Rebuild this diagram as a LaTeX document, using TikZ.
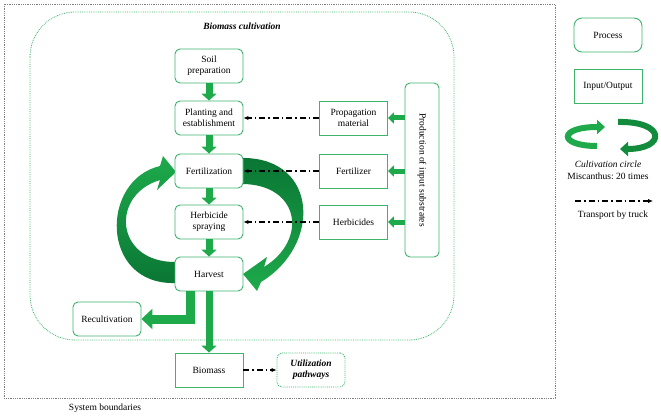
\documentclass[tikz,border=0pt]{standalone}
\usepackage{fontspec}
\setmainfont{Liberation Serif}
\usetikzlibrary{arrows.meta}

\definecolor{boxgreen}{RGB}{60,180,110}
\definecolor{arrgreen}{RGB}{30,170,75}
\definecolor{darkgreen}{RGB}{10,118,52}

\tikzset{
  process/.style={draw=boxgreen, line width=0.9pt, rounded corners=5pt, fill=white,
    minimum width=68pt, minimum height=34pt, align=center, inner sep=1pt},
  inout/.style={process, sharp corners},
  flow/.style={draw=arrgreen, line width=7pt, -{Triangle[width=15pt,length=7pt]}},
  supply/.style={draw=arrgreen, line width=5pt, -{Triangle[width=11pt,length=6pt]}},
  truck/.style={line width=1.1pt, dash pattern=on 6pt off 3pt on 1.5pt off 3pt,
    -{Latex[length=5pt,width=4.5pt]}},
}

\begin{document}
\begin{tikzpicture}[x=1pt, y=-1pt, font=\fontsize{9.5}{11}\selectfont]
  \useasboundingbox (0,0) rectangle (661,417);
  % Systemgrenze
  \draw[gray, densely dotted, line width=0.8pt] (4,4) rectangle (555,398);
  \node (sysb) at (105,408) {System boundaries};
  % Anbau
  \draw[boxgreen, densely dotted, line width=0.8pt, rounded corners=45pt] (30,12) rectangle (454,340);
  \node[font=\fontsize{9.5}{11}\selectfont\bfseries\itshape] (cultlabel) at (242,26) {Biomass cultivation};

  % Anbauzyklus
  \shade[top color=arrgreen, middle color=arrgreen, bottom color=darkgreen]
    (175,262) .. controls (115,262) and (110,195) .. (160,180) -- (157,190) -- (176,172)
    -- (163,156) -- (160,166) .. controls (100,180) and (100,285) .. (175,283) -- cycle;
  \shade[top color=darkgreen, bottom color=arrgreen]
    (243,158) .. controls (318,158) and (322,245) .. (261,282) -- (257,291) -- (243,274)
    -- (267,257) -- (264,267) .. controls (308,240) and (300,185) .. (243,184) -- cycle;

  % Prozesse
  \node[process] (soil) at (209,66) {Soil\\preparation};
  \node[process] (plant) at (209,118) {Planting and\\establishment};
  \node[process] (fert) at (209,171) {Fertilization};
  \node[process] (herb) at (209,222) {Herbicide\\spraying};
  \node[process] (harv) at (209,274) {Harvest};
  \node[process] (recult) at (107,319) {Recultivation};
  \node[inout] (biomass) at (209,370) {Biomass};
  \node[process, densely dotted, font=\fontsize{9.5}{11}\selectfont\bfseries\itshape] (util) at (311,370) {Utilization\\pathways};

  % Input
  \node[inout] (propag) at (353.5,118) {Propagation\\material};
  \node[inout] (fertin) at (353.5,171) {Fertilizer};
  \node[inout] (herbin) at (353.5,222) {Herbicides};
  \node[process, rotate=-90, minimum width=174pt, minimum height=34pt] (prodin) at (422,170) {Production of input substrates};

  % Stofffluss
  \draw[flow] (soil) -- (plant);
  \draw[flow] (plant) -- (fert);
  \draw[flow] (fert) -- (herb);
  \draw[flow] (herb) -- (harv);
  \draw[flow] (harv) -- (biomass);
  \draw[flow, line width=9pt, -{Triangle[width=20pt,length=11pt]}] ([xshift=-19pt]harv.south) |- (recult);
  \foreach \n in {propag,fertin,herbin} {
    \draw[supply] (\n -| prodin.south) -- (\n);
  }
  % Transport
  \draw[truck] (propag) -- (plant);
  \draw[truck] (fertin) -- (fert);
  \draw[truck] (herbin) -- (herb);
  \draw[truck] (biomass) -- (util);

  % Legende
  \node[process, rounded corners=8pt] (legproc) at (608,35) {Process};
  \node[inout] (legio) at (608,86) {Input/Output};
  \draw[arrgreen, line width=6pt, -{Triangle[width=14pt,length=8pt]}]
    (597,146) .. controls (558,146) and (558,127) .. (605,127);
  \draw[darkgreen!60!arrgreen, line width=6pt, -{Triangle[width=14pt,length=8pt]}]
    (618,122) .. controls (666,121) and (666,149) .. (620,149);
  \node[font=\fontsize{9.5}{11}\selectfont\itshape] (legcyc) at (608,164) {Cultivation circle};
  \node (legmis) at (608,176) {Miscanthus:\ 20 times};
  \coordinate (lt1) at (575,201);
  \coordinate (lt2) at (653,201);
  \draw[truck] (lt1) -- (lt2);
  \node (legtruck) at (613,215) {Transport by truck};
\end{tikzpicture}
\end{document}
